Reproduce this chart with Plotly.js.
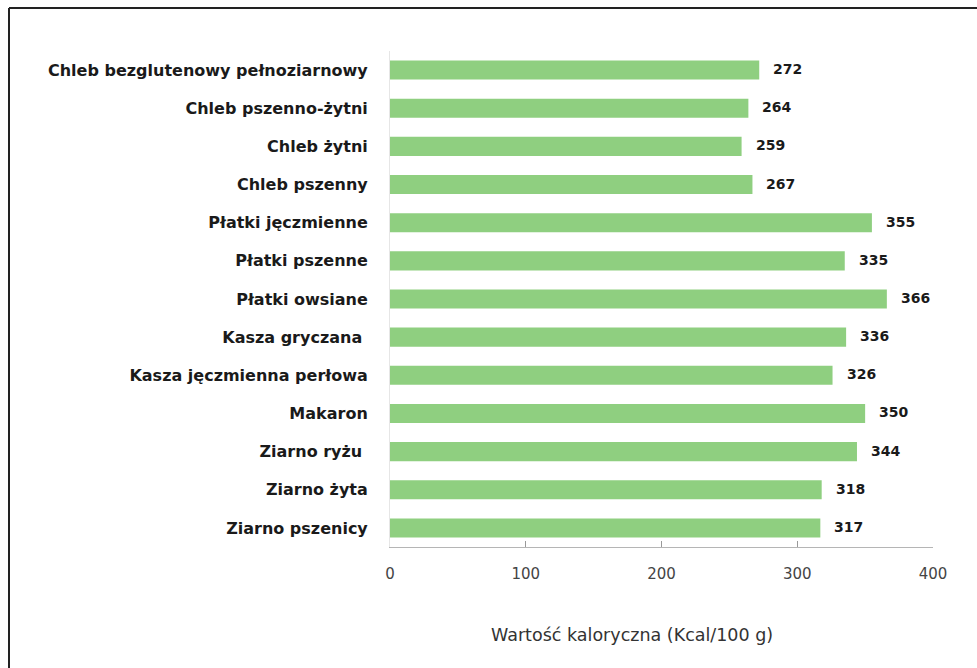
<!DOCTYPE html>
<html>
<head>
<meta charset="utf-8">
<script src="https://cdn.plot.ly/plotly-3.0.1.min.js"></script>
<style>
html,body{margin:0;padding:0;background:#fff;}
#chart{width:977px;height:668px;}
</style>
</head>
<body>
<div id="chart"></div>
<script>
var categories = [
  "Chleb bezglutenowy pełnoziarnowy",
  "Chleb pszenno-żytni",
  "Chleb żytni",
  "Chleb pszenny",
  "Płatki jęczmienne",
  "Płatki pszenne",
  "Płatki owsiane",
  "Kasza gryczana ",
  "Kasza jęczmienna perłowa",
  "Makaron",
  "Ziarno ryżu ",
  "Ziarno żyta",
  "Ziarno pszenicy"
];
var values = [272, 264, 259, 267, 355, 335, 366, 336, 326, 350, 344, 318, 317];
var xTicks = [0, 100, 200, 300, 400];
var xTitle = "Wartość kaloryczna (Kcal/100 g)";

var L = 390, R = 44, T = 51, B = 121;
var W = 977 - L - R, H = 668 - T - B;
function px2x(p){ return (p - L) / W; }
function py2y(p){ return (668 - B - p) / H; }

var FONT = "DejaVu Sans, Noto Sans, sans-serif";

var trace = {
  type: "bar",
  orientation: "h",
  x: values,
  y: categories,
  width: 0.5,
  marker: {color: "#8fcf80", line: {width: 0}},
  hoverinfo: "x+y"
};

var annotations = values.map(function(v, i){
  return {
    x: v, y: categories[i], xref: "x", yref: "y",
    text: "<b>" + v + "</b>", showarrow: false,
    xanchor: "left", yanchor: "middle", xshift: 12, yshift: 1,
    font: {family: FONT, size: 14, color: "#1a1a1a"}
  };
});
annotations.push({
  x: px2x(632), y: py2y(635), xref: "paper", yref: "paper",
  text: xTitle, showarrow: false, xanchor: "center", yanchor: "middle",
  font: {family: FONT, size: 17.5, color: "#333"}
});

var layout = {
  width: 977, height: 668,
  margin: {l: L, r: R, t: T, b: B, pad: 0},
  paper_bgcolor: "#fff", plot_bgcolor: "#fff",
  showlegend: false,
  bargap: 0.5,
  xaxis: {
    range: [0, 400],
    tickvals: xTicks,
    ticktext: xTicks.map(String),
    showgrid: false, zeroline: false,
    showline: true, linecolor: "#b5b5b5", linewidth: 1,
    ticks: "inside", ticklen: 6, tickcolor: "#999", tickwidth: 1,
    tickfont: {family: FONT, size: 15, color: "#444"},
    ticklabelstandoff: 13
  },
  yaxis: {
    categoryorder: "array",
    categoryarray: categories.slice().reverse(),
    autorange: false,
    range: [-0.5, categories.length - 0.5],
    showgrid: false, zeroline: false,
    showline: true, linecolor: "#e6e6e6", linewidth: 1,
    ticks: "", ticklabelstandoff: 18,
    tickfont: {family: FONT, size: 16, color: "#1a1a1a", weight: "bold"}
  },
  annotations: annotations,
  shapes: [
    {type: "line", xref: "paper", yref: "paper",
     x0: px2x(9), x1: px2x(9), y0: py2y(8), y1: py2y(700),
     line: {color: "#222", width: 2}},
    {type: "line", xref: "paper", yref: "paper",
     x0: px2x(9), x1: px2x(990), y0: py2y(8), y1: py2y(8),
     line: {color: "#222", width: 2}}
  ]
};

Plotly.newPlot("chart", [trace], layout, {displayModeBar: false, staticPlot: true});
</script>
</body>
</html>
